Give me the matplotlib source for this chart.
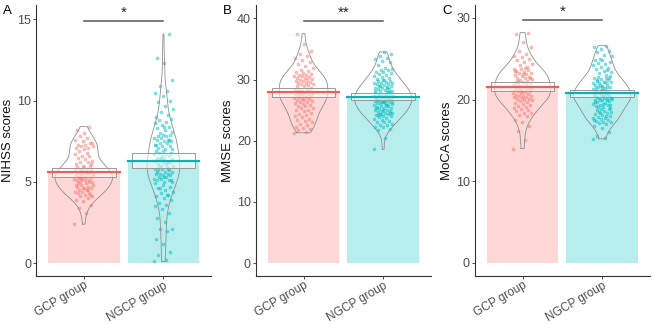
#!/bin/python3

import numpy as np
import matplotlib.pyplot as plt
from matplotlib.patches import Rectangle

plt.rcParams['font.family'] = ['Liberation Sans', 'DejaVu Sans']

groups = ["GCP group", "NGCP group"]
colors = ["#F8766D", "#00BFC4"]
line_colors = ["#F0605A", "#14AEB0"]

# NIHSS
nihss_gcp = [2.4, 3.1, 3.4, 3.6, 3.8, 3.9,
             4.0, 4.1, 4.1, 4.2, 4.3, 4.3, 4.4, 4.4, 4.5, 4.5, 4.6, 4.6, 4.7, 4.7, 4.8,
             4.8, 4.9, 4.9, 4.2, 4.6, 4.8, 4.5,
             5.0, 5.0, 5.1, 5.1, 5.1, 5.2, 5.2, 5.3, 5.3, 5.3, 5.4, 5.4, 5.5, 5.5, 5.5,
             5.6, 5.6, 5.6, 5.7, 5.7, 5.8, 5.8, 5.8, 5.9, 5.9, 5.0, 5.2, 5.4, 5.6, 5.3,
             6.0, 6.0, 6.1, 6.2, 6.2, 6.3, 6.4, 6.5, 6.6, 6.6, 6.7, 6.8, 6.9, 6.1,
             7.0, 7.1, 7.1, 7.2, 7.2, 7.3, 7.3, 7.4, 7.5, 7.6, 7.7, 7.8, 7.4,
             8.0, 8.2, 8.4]
nihss_ngcp = [0.1, 0.2, 0.5, 0.7, 1.2, 1.5, 2.0, 2.1, 2.1, 2.5, 2.8,
              3.1, 3.3, 3.5, 3.6, 3.7, 3.9,
              4.0, 4.1, 4.2, 4.3, 4.4, 4.5, 4.6, 4.7, 4.8, 4.9, 4.2, 4.6,
              5.0, 5.0, 5.1, 5.1, 5.2, 5.2, 5.3, 5.3, 5.4, 5.4, 5.5, 5.5, 5.5, 5.6, 5.6,
              5.7, 5.7, 5.8, 5.8, 5.9, 5.9, 5.1, 5.3, 5.6, 5.8,
              6.0, 6.0, 6.1, 6.1, 6.2, 6.2, 6.3, 6.3, 6.4, 6.4, 6.5, 6.5, 6.6, 6.6, 6.7,
              6.7, 6.8, 6.8, 6.9, 6.9, 6.2, 6.5,
              7.0, 7.0, 7.1, 7.2, 7.2, 7.3, 7.4, 7.4, 7.5, 7.5, 7.6, 7.6, 7.7, 7.7, 7.8,
              7.8, 7.9, 7.9, 7.3, 7.6,
              8.0, 8.1, 8.2, 8.3, 8.4, 8.5, 8.6, 8.7, 8.8, 8.9, 8.4,
              9.0, 9.1, 9.3, 9.5, 9.7, 9.9,
              10.0, 10.3, 10.5, 10.6, 10.9,
              11.3, 12.3, 12.6, 14.1]

# MMSE
mmse_gcp = [21.3, 21.5, 21.8, 22.0, 22.1, 22.3, 22.6, 22.8,
            23.0, 23.2, 23.4, 23.6, 23.8, 24.0, 24.2, 24.4, 24.6, 24.8,
            25.0, 25.1, 25.3, 25.4, 25.6, 25.7, 25.9, 26.0, 26.1, 26.3, 26.4, 26.5,
            26.6, 26.7, 26.8, 26.9,
            27.0, 27.1, 27.2, 27.3, 27.4, 27.5, 27.6, 27.7, 27.8, 27.9, 28.0, 28.1,
            28.2, 28.3, 28.4, 28.5, 28.7, 28.9,
            29.0, 29.1, 29.2, 29.3, 29.4, 29.5, 29.6, 29.7, 29.8, 29.9, 30.0, 30.1,
            30.2, 30.3, 30.4, 30.5, 30.6, 30.7, 30.8, 30.9,
            31.0, 31.2, 31.4, 31.6, 31.9, 32.2, 32.5, 32.8,
            33.2, 33.6, 33.9, 34.2, 34.6,
            35.8, 37.5]
mmse_ngcp = [18.6, 20.5, 21.8,
             22.0, 22.2, 22.3, 22.5, 22.6, 22.8, 23.0, 23.1, 23.3, 23.4, 23.6, 23.7, 23.9,
             24.0, 24.1, 24.2, 24.3, 24.4, 24.5, 24.6, 24.7, 24.8, 24.9, 25.0, 25.1,
             25.2, 25.3, 25.4, 25.5, 25.6, 25.7, 25.8, 25.9, 24.2, 24.6, 25.0, 25.4,
             25.8, 24.4,
             26.0, 26.1, 26.2, 26.3, 26.4, 26.5, 26.6, 26.7, 26.8, 26.9, 27.0, 27.1,
             27.2, 27.3, 27.4, 27.5, 27.6, 27.7, 27.8, 27.9, 26.1, 26.3, 26.5, 26.7,
             26.9, 27.1, 27.3, 27.5, 27.7, 27.9, 26.4, 27.0,
             28.0, 28.1, 28.2, 28.3, 28.4, 28.5, 28.6, 28.7, 28.8, 28.9, 29.0, 29.1,
             29.2, 29.3, 29.4, 29.5, 29.6, 29.7, 29.8, 29.9, 28.2, 28.6, 29.0, 29.4,
             30.0, 30.1, 30.3, 30.4, 30.6, 30.7, 30.9, 31.0, 31.2, 31.3, 31.5, 31.6,
             31.8, 31.9,
             32.3, 32.8, 33.1, 33.4, 33.6, 33.9,
             34.2, 34.5]

# MoCA
moca_gcp = [14.0, 15.0, 16.2, 16.8, 17.2, 17.5,
            18.0, 18.1, 18.3, 18.4, 18.6, 18.7, 18.9, 19.0, 19.1, 19.2, 19.4, 19.5,
            19.6, 19.7, 19.8, 19.9,
            20.0, 20.1, 20.1, 20.2, 20.3, 20.3, 20.4, 20.5, 20.5, 20.6, 20.7, 20.8,
            20.8, 20.9, 21.0, 21.0, 21.1, 21.2, 21.3, 21.3, 21.4, 21.5, 21.6, 21.6,
            21.7, 21.8, 21.9, 21.9,
            22.0, 22.1, 22.2, 22.3, 22.4, 22.5, 22.6, 22.7, 22.8, 22.9, 23.0, 23.1,
            23.2, 23.3, 23.4, 23.5, 23.6, 23.7, 23.8, 23.9, 22.3, 22.7, 23.1, 23.5,
            24.0, 24.2, 24.4, 24.6, 24.8, 25.0, 25.2, 25.4, 25.6, 25.9,
            26.5, 27.0, 28.0, 28.2]
moca_ngcp = [15.2, 15.3, 15.5, 16.0, 16.5, 16.8, 17.0,
             17.1, 17.2, 17.3, 17.4, 17.5, 17.6, 17.7, 17.8, 17.9, 18.0, 18.1, 18.2,
             18.3, 18.4, 18.5, 18.6, 18.7, 18.8, 18.9, 17.5, 18.0, 18.5,
             19.0, 19.1, 19.2, 19.3, 19.4, 19.5, 19.6, 19.7, 19.8, 19.9, 20.0, 20.1,
             20.2, 20.3, 20.4, 20.5, 20.6, 20.7, 20.8, 20.9, 19.1, 19.3, 19.5, 19.7,
             19.9, 20.0, 20.1, 20.2, 20.3, 20.4, 20.5, 20.6, 20.7, 20.8, 20.2, 20.5,
             21.0, 21.1, 21.2, 21.3, 21.4, 21.5, 21.6, 21.7, 21.8, 21.9, 22.0, 22.1,
             22.2, 22.3, 22.4, 22.5, 22.6, 22.7, 22.8, 22.9, 21.2, 21.4, 21.6, 21.8,
             22.0, 22.2, 22.4, 22.6, 21.5, 21.0,
             23.0, 23.2, 23.4, 23.5, 23.7, 23.9, 24.0, 24.2, 24.3, 24.5, 24.6, 24.8,
             24.9, 23.6,
             25.0, 25.3, 25.5, 25.8, 26.0, 26.2, 26.4, 26.6]

panels = [
    ("A", "NIHSS scores", [nihss_gcp, nihss_ngcp], (-0.8, 15.9), [0, 5, 10, 15], 14.9, "*"),
    ("B", "MMSE scores", [mmse_gcp, mmse_ngcp], (-2.1, 42.2), [0, 10, 20, 30, 40], 39.6, "**"),
    ("C", "MoCA scores", [moca_gcp, moca_ngcp], (-1.6, 31.6), [0, 10, 20, 30], 29.7, "*"),
]
axes_left = [0.055, 0.391, 0.726]


def kde(vals, grid):
    """Gaussian density with R's default bandwidth (bw.nrd0)"""
    vals = np.asarray(vals)
    n = len(vals)
    iqr = np.subtract(*np.percentile(vals, [75, 25]))
    bw = 0.9 * min(vals.std(ddof=1), iqr / 1.34) * n ** -0.2
    z = (grid[:, None] - vals[None, :]) / bw
    return np.exp(-0.5 * z ** 2).sum(axis=1) / (n * bw * np.sqrt(2 * np.pi))


fig = plt.figure(figsize=(6.54, 3.24), dpi=100)

for (letter, ylabel, data, ylim, yticks, sig_y, stars), left in zip(panels, axes_left):
    ax = fig.add_axes([left, 0.148, 0.268, 0.837])

    # densities first, so both beans share one width scale
    grids = [np.linspace(min(d), max(d), 300) for d in data]
    dens = [kde(d, g) for d, g in zip(data, grids)]
    scale = 0.36 / max(dd.max() for dd in dens)

    for i, vals in enumerate(data):
        x0 = i + 1
        vals = np.asarray(vals)
        mean = vals.mean()
        half = 1.96 * vals.std(ddof=1) / np.sqrt(len(vals))

        ax.bar(x0, mean, width=0.9, color=colors[i], alpha=0.28, lw=0, zorder=1)

        jit = ((np.arange(len(vals)) * 0.618034) % 1.0 - 0.5) * 0.24
        ax.scatter(x0 + jit, vals, s=5, facecolor=colors[i], edgecolor=colors[i],
                   alpha=0.45, lw=0.4, zorder=2)

        w = dens[i] * scale
        ax.plot(np.concatenate([x0 - w, (x0 + w)[::-1], [x0 - w[0]]]),
                np.concatenate([grids[i], grids[i][::-1], [grids[i][0]]]),
                color="#8F8F8F", lw=0.6, zorder=3)

        ax.add_patch(Rectangle((x0 - 0.4, mean - half), 0.8, 2 * half,
                               facecolor="white", alpha=0.55, edgecolor="none", zorder=4))
        ax.add_patch(Rectangle((x0 - 0.4, mean - half), 0.8, 2 * half,
                               facecolor="none", edgecolor="#9A9A9A", lw=0.7, zorder=4))
        ax.plot([x0 - 0.45, x0 + 0.45], [mean, mean], color=line_colors[i], lw=1.6, zorder=5)

    ax.plot([1, 2], [sig_y, sig_y], color="#555555", lw=1.1)
    ax.text(1.5, sig_y + (ylim[1] - ylim[0]) * 0.005, stars, ha="center", va="bottom",
            fontsize=11, color="#222222")

    ax.set_xlim(0.4, 2.6)
    ax.set_ylim(*ylim)
    ax.set_yticks(yticks)
    ax.set_xticks([1, 2])
    ax.set_xticklabels(groups, rotation=30, ha="right", rotation_mode="anchor")
    ax.tick_params(colors="#4D4D4D", length=2.5, width=0.7)
    ax.tick_params(axis="x", pad=0, labelsize=8.5)
    ax.tick_params(axis="y", pad=1, labelsize=9)
    for s in ["top", "right"]:
        ax.spines[s].set_visible(False)
    for s in ["left", "bottom"]:
        ax.spines[s].set_color("#333333")
        ax.spines[s].set_linewidth(0.8)
    ax.set_ylabel(ylabel, fontsize=9.5, color="#111111", labelpad=2)

    fig.text(left - 0.05, 0.985, letter, fontsize=9.5, ha="left", va="top")

fig.savefig("out.png", dpi=100)
